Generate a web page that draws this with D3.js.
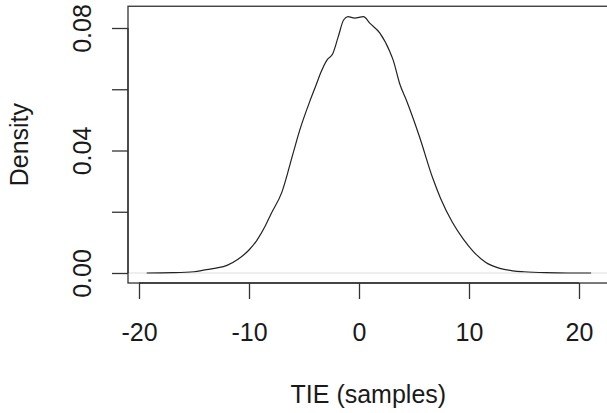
<!DOCTYPE html>
<html>
<head>
<meta charset="utf-8">
<script src="https://cdn.jsdelivr.net/npm/d3@7"></script>
<style>
  body { margin: 0; background: #fff; }
  text { font-family: "Liberation Sans", Arial, Helvetica, sans-serif; fill: #1a1a1a; }
</style>
</head>
<body>
<script>
// density estimate
var tie = [-19.3, -17, -15, -14, -13, -12, -11, -10, -9.3, -8.5, -8, -7, -6, -5.4, -4.5, -3.9, -3.5, -2.9, -2.4, -1.9, -1.4, -1, -0.4, 0.4, 1, 1.9, 2.8, 3.1, 3.7, 4.3, 5.5, 6.7, 7.4, 8.5, 9.5, 10.4, 11.5, 12.8, 14, 15, 17, 19, 21.1];
var density = [0, 0.0001, 0.0004, 0.001, 0.0016, 0.0025, 0.0045, 0.0075, 0.0106, 0.0155, 0.0193, 0.0265, 0.039, 0.0465, 0.0558, 0.0614, 0.0652, 0.0696, 0.0715, 0.077, 0.0826, 0.0837, 0.0832, 0.0837, 0.0815, 0.0783, 0.0723, 0.0696, 0.0618, 0.0565, 0.0445, 0.031, 0.0245, 0.0165, 0.011, 0.007, 0.0035, 0.0015, 0.0007, 0.0004, 0.0001, 0, 0];
var xTicks = [-20, -10, 0, 10, 20];
var yTicks = [0, 0.02, 0.04, 0.06, 0.08];
var yLabels = ["0.00", "", "0.04", "", "0.08"];

var W = 607, H = 413;
var svg = d3.select("body").append("svg").attr("width", W).attr("height", H);

var x = d3.scaleLinear().domain([-21, 22.7]).range([128, 608.7]);
var y = d3.scaleLinear().domain([0, 0.08]).range([273, 28]);
var yLo = y(-0.00327), yHi = y(0.0871);

var axisCol = "#333";

// zero line
svg.append("line")
    .attr("x1", x.range()[0]).attr("x2", x.range()[1])
    .attr("y1", y(0)).attr("y2", y(0))
    .attr("stroke", "#ddd").attr("stroke-width", 1);

// curve
var pts = tie.map(function(v, i) { return [v, density[i]]; });
var line = d3.line()
    .x(function(d) { return x(d[0]); })
    .y(function(d) { return y(d[1]); })
    .curve(d3.curveMonotoneX);
svg.append("path")
    .attr("d", line(pts))
    .attr("fill", "none")
    .attr("stroke", "#222")
    .attr("stroke-width", 1.2);

// box
svg.append("rect")
    .attr("x", x.range()[0]).attr("y", yHi)
    .attr("width", x.range()[1] - x.range()[0])
    .attr("height", yLo - yHi)
    .attr("fill", "none").attr("stroke", axisCol).attr("stroke-width", 1.3);

// x axis
var xa = svg.append("g").attr("transform", "translate(0," + yLo + ")")
    .call(d3.axisBottom(x).tickValues(xTicks).tickSize(16).tickSizeOuter(0).tickFormat(function(d) { return String(d); }));
xa.select(".domain").attr("d", "M" + x(-20) + ",0H" + x(20)).attr("stroke", axisCol).attr("stroke-width", 1.3);
xa.selectAll(".tick line").attr("stroke", axisCol).attr("stroke-width", 1.3);
xa.selectAll("text").attr("font-size", 25).attr("font-family", null).attr("fill", null)
    .attr("y", null).attr("dy", null).attr("transform", "translate(0,58)");

// y axis
var ya = svg.append("g").attr("transform", "translate(" + x.range()[0] + ",0)")
    .call(d3.axisLeft(y).tickValues(yTicks).tickSize(16).tickSizeOuter(0).tickFormat(function(d, i) { return yLabels[i]; }));
ya.select(".domain").attr("d", "M0," + y(0) + "V" + y(0.08)).attr("stroke", axisCol).attr("stroke-width", 1.3);
ya.selectAll(".tick line").attr("stroke", axisCol).attr("stroke-width", 1.3);
ya.selectAll("text").attr("font-size", 25).attr("font-family", null).attr("fill", null)
    .attr("x", null).attr("dy", null)
    .attr("text-anchor", "middle")
    .attr("transform", "translate(-37,0) rotate(-90)");

// titles
svg.append("text")
    .attr("x", (x.range()[0] + x.range()[1]) / 2).attr("y", 403)
    .attr("text-anchor", "middle").attr("font-size", 25)
    .text("TIE (samples)");
svg.append("text")
    .attr("transform", "translate(28," + ((yLo + yHi) / 2) + ") rotate(-90)")
    .attr("text-anchor", "middle").attr("font-size", 25)
    .text("Density");
</script>
</body>
</html>
